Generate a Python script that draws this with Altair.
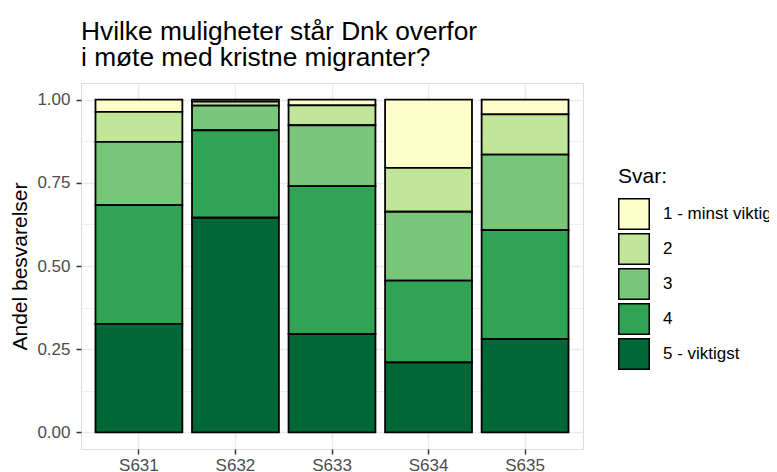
import altair as alt
import pandas as pd

items = ["S631", "S632", "S633", "S634", "S635"]
answers = ["1 - minst viktig", "2", "3", "4", "5 - viktigst"]
colors = ["#ffffcc", "#c2e699", "#78c679", "#31a354", "#006837"]

# share of each answer per item (answer 1..5)
s631 = [0.037, 0.090, 0.190, 0.357, 0.326]
s632 = [0.006, 0.012, 0.074, 0.263, 0.645]
s633 = [0.017, 0.060, 0.183, 0.445, 0.295]
s634 = [0.205, 0.132, 0.207, 0.246, 0.210]
s635 = [0.044, 0.121, 0.227, 0.328, 0.280]

rows = []
for item, vals in zip(items, [s631, s632, s633, s634, s635]):
    for i, (ans, v) in enumerate(zip(answers, vals)):
        rows.append({"item": item, "svar": ans, "num": i + 1, "andel": v})
df = pd.DataFrame(rows)

FONT = "Liberation Sans"
minor_test = "(datum.value * 4) % 1 != 0"

chart = alt.Chart(df).mark_bar(stroke="black", strokeWidth=1.8).encode(
    x=alt.X("item:N", title=None,
            scale=alt.Scale(paddingInner=0.1, paddingOuter=0.15),
            axis=alt.Axis(labelAngle=0, grid=True, gridColor="#ebebeb", gridWidth=1.5,
                          domain=False, tickColor="#333333", tickSize=5, tickWidth=1.5,
                          labelColor="#4d4d4d", labelFontSize=17, labelFont=FONT,
                          labelPadding=3)),
    y=alt.Y("andel:Q", stack="zero", title="Andel besvarelser",
            scale=alt.Scale(domain=[-0.05, 1.05], nice=False, zero=False),
            axis=alt.Axis(values=[0, 0.125, 0.25, 0.375, 0.5, 0.625, 0.75, 0.875, 1.0],
                          labelExpr="(datum.value * 4) % 1 == 0 ? format(datum.value, '.2f') : ''",
                          grid=True, gridColor="#ebebeb",
                          gridWidth={"condition": {"test": minor_test, "value": 0.8}, "value": 1.5},
                          tickOpacity={"condition": {"test": minor_test, "value": 0}, "value": 1},
                          domain=False, tickColor="#333333", tickSize=5, tickWidth=1.5,
                          labelColor="#4d4d4d", labelFontSize=17, labelFont=FONT,
                          labelPadding=6,
                          titleFont=FONT, titleFontSize=21, titleFontWeight="normal",
                          titleColor="black", titlePadding=6)),
    color=alt.Color("svar:N",
                    scale=alt.Scale(domain=answers, range=colors),
                    legend=alt.Legend(title="Svar:", orient="none", legendX=537, legendY=83,
                                      titleFont=FONT, titleFontSize=21, titleFontWeight="normal",
                                      titleColor="black", titlePadding=11,
                                      labelFont=FONT, labelFontSize=17, labelColor="black",
                                      symbolType="square", symbolSize=930,
                                      symbolStrokeColor="black", symbolStrokeWidth=1.5,
                                      symbolOpacity=1, rowPadding=-4.5, labelOffset=13)),
    order=alt.Order("num:Q", sort="descending"),
).properties(
    width=502,
    height=366,
    title=alt.TitleParams(
        text=["Hvilke muligheter står Dnk overfor", "i møte med kristne migranter?"],
        anchor="start", frame="group", font=FONT, fontSize=26.3, fontWeight="normal",
        color="black", lineHeight=26, offset=12),
    autosize=alt.AutoSizeParams(type="none"),
    padding={"left": 73, "top": 75, "right": 186, "bottom": 23},
).configure_view(
    stroke="#333333", strokeWidth=1
).configure(background="white")

chart.save("out.html", embed_options={"renderer": "svg", "actions": False})
